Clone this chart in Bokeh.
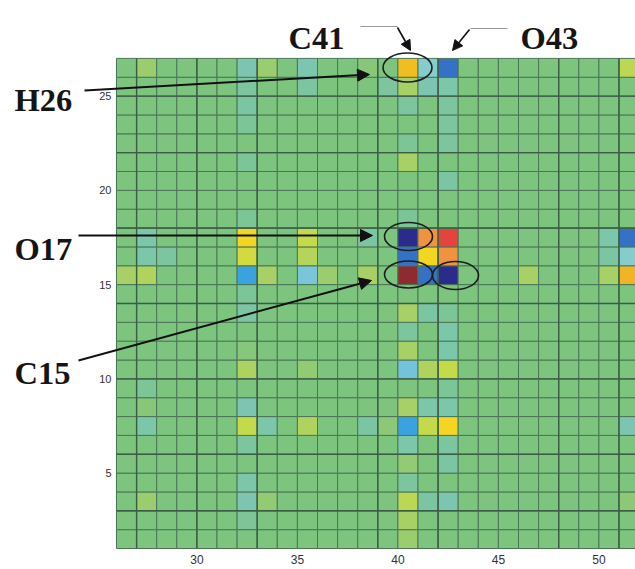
import numpy as np
from bokeh.plotting import figure
from bokeh.models import ColumnDataSource, LinearColorMapper, FixedTicker, Label, Arrow, NormalHead, Range1d
from bokeh.embed import file_html
from bokeh.resources import INLINE

# ---------------- data ----------------
X_CELLS = list(range(26, 52))
Y_CELLS = list(range(1, 27))

CELL_X = [27, 32, 33, 35, 38, 40, 41, 42, 51,
          32, 35, 39, 40, 41, 42,
          32, 40, 42,
          32, 42,
          40, 42,
          32, 40,
          42,
          32, 40,
          27, 32, 35, 38, 40, 41, 42, 50, 51,
          27, 28, 32, 35, 40, 41, 42, 50, 51,
          26, 27, 32, 33, 35, 36, 38, 40, 41, 42, 46, 50, 51,
          32,
          32, 40, 41, 42,
          40, 42,
          32, 40, 42,
          32, 35, 40, 41, 42,
          27, 42,
          27, 32, 40, 41, 42,
          27, 32, 33, 35, 38, 39, 40, 41, 42, 51,
          32, 40, 42,
          40, 42,
          32, 40,
          27, 32, 33, 40, 41, 42, 51,
          32, 40,
          40]
CELL_Y = [26, 26, 26, 26, 26, 26, 26, 26, 26,
          25, 25, 25, 25, 25, 25,
          24, 24, 24,
          23, 23,
          22, 22,
          21, 21,
          20,
          18, 18,
          17, 17, 17, 17, 17, 17, 17, 17, 17,
          16, 16, 16, 16, 16, 16, 16, 16, 16,
          15, 15, 15, 15, 15, 15, 15, 15, 15, 15, 15, 15, 15,
          14,
          13, 13, 13, 13,
          12, 12,
          11, 11, 11,
          10, 10, 10, 10, 10,
          9, 9,
          8, 8, 8, 8, 8,
          7, 7, 7, 7, 7, 7, 7, 7, 7, 7,
          6, 6, 6,
          5, 5,
          4, 4,
          3, 3, 3, 3, 3, 3, 3,
          2, 2,
          1]
CELL_V = [0.12, -0.15, 0.12, -0.15, 0.06, 0.55, -0.30, -0.80, 0.25,
          -0.08, -0.08, -0.08, 0.15, -0.15, -0.12,
          -0.10, -0.08, -0.08,
          -0.06, -0.08,
          -0.05, -0.08,
          -0.06, 0.15,
          -0.10,
          -0.06, -0.06,
          -0.12, 0.45, 0.30, -0.10, -1.00, 0.70, 0.85, -0.12, -0.80,
          -0.12, -0.08, 0.35, 0.22, -0.80, 0.45, 0.70, -0.10, -0.30,
          0.15, 0.20, -0.60, 0.15, -0.40, 0.12, 0.15, 1.00, -0.80, -1.00, 0.15, 0.15, 0.58,
          -0.06,
          -0.10, 0.15, -0.10, -0.06,
          -0.08, -0.12,
          0.05, 0.15, -0.12,
          0.18, 0.10, -0.45, 0.20, 0.30,
          -0.06, -0.06,
          0.06, -0.15, 0.15, -0.12, -0.12,
          -0.12, 0.30, -0.12, 0.20, -0.10, 0.08, -0.60, 0.30, 0.45, -0.15,
          -0.08, -0.12, -0.10,
          0.10, -0.10,
          -0.12, -0.08,
          0.12, -0.15, 0.10, 0.25, -0.10, -0.15, 0.08,
          -0.06, 0.15,
          0.12]

X_TICKS = [30, 35, 40, 45, 50]
Y_TICKS = [5, 10, 15, 20, 25]
THICK_X = [27, 30, 33, 39, 42, 48, 51]
THICK_Y = [25, 22, 18, 14, 10, 6, 3]

CMAP_POS = [-1.0, -0.8, -0.6, -0.45, -0.3, -0.15, -0.07, 0.0, 0.08, 0.15, 0.3, 0.45, 0.55, 0.7, 0.85, 1.0]
CMAP_COL = ["#2b2b8e", "#3573c6", "#3aa2de", "#74c2dc", "#86cccc", "#7cc6b0", "#7cc59c", "#7cc47f",
            "#8cc878", "#a6d068", "#c4da4c", "#f2d622", "#f2be20", "#f09440", "#e6443e", "#8e2a30"]

# ---------------- build ----------------
def hex2rgb(h):
    return [int(h[i:i + 2], 16) for i in (1, 3, 5)]

pos = np.array(CMAP_POS)
cols = np.array([hex2rgb(c) for c in CMAP_COL], dtype=float)
tt = np.linspace(-1, 1, 256)
palette = ["#%02x%02x%02x" % tuple(int(round(np.interp(t, pos, cols[:, k]))) for k in range(3)) for t in tt]
mapper = LinearColorMapper(palette=palette, low=-1, high=1)

vals = {(x, y): 0.0 for x in X_CELLS for y in Y_CELLS}
for x, y, v in zip(CELL_X, CELL_Y, CELL_V):
    vals[(x, y)] = v
keys = list(vals.keys())
src = ColumnDataSource(dict(
    left=[k[0] for k in keys], right=[k[0] + 1 for k in keys],
    bottom=[k[1] for k in keys], top=[k[1] + 1 for k in keys],
    v=[vals[k] for k in keys]))

XMIN, XMAX = X_CELLS[0], X_CELLS[-1] + 1
YMIN, YMAX = Y_CELLS[0], Y_CELLS[-1] + 1

# page-pixel calibration of the grid (layout only)
GX0, GY0, PPX, PPY = 116, 548, 20.1, 18.85

def dx(px):
    return XMIN + (px - GX0) / PPX

def dy(py):
    return YMIN + (GY0 - py) / PPY

W, H = 635, 569
p = figure(width=W, height=H,
           x_range=Range1d(dx(0), dx(W)), y_range=Range1d(dy(H), dy(0)),
           output_backend="svg", toolbar_location=None,
           min_border=0, min_border_left=0, min_border_right=0, min_border_top=0, min_border_bottom=0)
p.outline_line_color = None
p.grid.visible = False

p.quad(left="left", right="right", bottom="bottom", top="top", source=src,
       fill_color={"field": "v", "transform": mapper}, line_color="#4b7656", line_width=1)

p.segment(x0=THICK_X, y0=[YMIN] * len(THICK_X), x1=THICK_X, y1=[YMAX] * len(THICK_X),
          line_color="#3a5e43", line_width=1.4)
p.segment(x0=[XMIN] * len(THICK_Y), y0=THICK_Y, x1=[XMAX] * len(THICK_Y), y1=THICK_Y,
          line_color="#3a5e43", line_width=1.4)

for ax, ticks in ((p.xaxis[0], X_TICKS), (p.yaxis[0], Y_TICKS)):
    ax.ticker = FixedTicker(ticks=ticks)
    ax.axis_line_color = None
    ax.major_tick_line_color = None
    ax.minor_tick_line_color = None
    ax.major_tick_out = 0
    ax.major_tick_in = 0
    ax.minor_tick_out = 0
    ax.minor_tick_in = 0
    ax.major_label_text_font = "Liberation Sans"
    ax.major_label_text_color = "#333333"
p.xaxis.fixed_location = YMIN
p.yaxis.fixed_location = XMIN
p.xaxis.major_label_text_font_size = "12px"
p.yaxis.major_label_text_font_size = "11px"
p.xaxis.major_label_standoff = 6
p.yaxis.major_label_standoff = 5

# ---------------- annotations ----------------
FONT = "Liberation Serif"
for txt, px, py in (("C41", 288, 37), ("O43", 520, 37), ("H26", 14, 99), ("O17", 14, 248), ("C15", 14, 372)):
    p.add_layout(Label(x=dx(px), y=dy(py), text=txt, text_font=FONT, text_font_style="bold",
                       text_font_size="32.5px", text_color="#151515", text_baseline="alphabetic",
                       text_align="left"))

def arrow(x0, y0, x1, y1, lw=2.0, head=12, color="#111111", end=True):
    head_m = NormalHead(size=head, fill_color=color, line_color=color, line_width=1) if end else None
    p.add_layout(Arrow(end=head_m, x_start=dx(x0), y_start=dy(y0), x_end=dx(x1), y_end=dy(y1),
                       line_color=color, line_width=lw))

arrow(84, 90, 369, 74)
arrow(78, 235, 372, 235)
arrow(78, 360, 371, 280)
arrow(360, 26, 397, 26, lw=1.2, color="#9a9a9a", end=False)
arrow(397, 27, 410, 50, lw=1.6, head=10)
arrow(507, 28, 470, 28, lw=1.2, color="#9a9a9a", end=False)
arrow(469, 29, 452, 50, lw=1.6, head=10)

p.ellipse(x=[dx(407), dx(408), dx(408), dx(455)], y=[dy(67), dy(236), dy(274), dy(275)],
          width=[49 / PPX, 48 / PPX, 48 / PPX, 46 / PPX],
          height=[29 / PPY, 28 / PPY, 27 / PPY, 28 / PPY],
          fill_color=None, line_color="#1e1e1e", line_width=1.6)

open("out.html", "w").write(file_html(p, INLINE))
